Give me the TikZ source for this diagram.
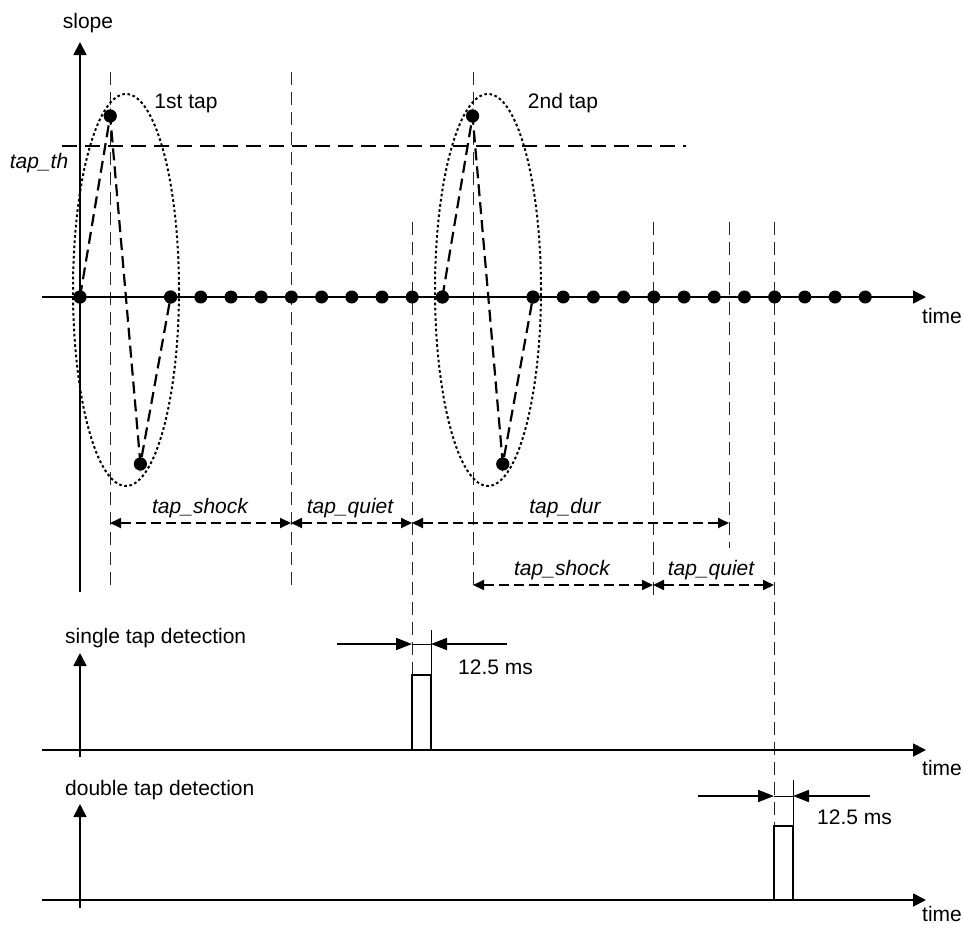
\documentclass[tikz,border=0pt]{standalone}
\usepackage{fontspec}
\setmainfont{Liberation Sans}
\usetikzlibrary{arrows.meta,shapes.geometric}
\begin{document}
\begin{tikzpicture}[x=1pt,y=-1pt,
  txt/.style={inner sep=0pt,font=\fontsize{21}{25}\selectfont},
  itxt/.style={txt,font=\fontsize{21}{25}\selectfont\itshape},
  axis/.style={line width=1.8pt,-{Triangle[length=13pt,width=13pt]}},
  dotnode/.style={circle,fill=black,minimum size=13pt,inner sep=0pt},
  sig/.style={line width=2.2pt,dash pattern=on 12pt off 6pt},
  thr/.style={line width=2pt,dash pattern=on 15pt off 8pt},
  vline/.style={line width=0.9pt,black!85,dash pattern=on 13pt off 7pt},
  dim/.style={line width=1.9pt,dash pattern=on 10pt off 5pt,{Triangle[length=11pt,width=10pt]}-{Triangle[length=11pt,width=10pt]}},
  tick/.style={line width=1.8pt,-{Triangle[length=16pt,width=12pt]}},
  thin/.style={line width=0.9pt},
  pulse/.style={line width=1.8pt},
  tapell/.style={ellipse,draw,line width=2pt,dash pattern=on 2.6pt off 2.6pt,minimum width=106pt,minimum height=392pt,inner sep=0pt}
]
\useasboundingbox (0,0) rectangle (964,927);

% ---------- main slope plot ----------
\coordinate (oy0) at (80,592);
\coordinate (oy1) at (80,42);
\coordinate (ox0) at (42,297);
\coordinate (ox1) at (926,297);

% tap threshold
\coordinate (th0) at (62,146);
\coordinate (th1) at (686,146);
\draw[thr] (th0) -- (th1);

% vertical dashed guide lines
\coordinate (va0) at (110,72);  \coordinate (va1) at (110,592);
\coordinate (vb0) at (291,72);  \coordinate (vb1) at (291,592);
\coordinate (vc0) at (412,222); \coordinate (vc1) at (412,675);
\coordinate (vd0) at (473,72);  \coordinate (vd1) at (473,592);
\coordinate (ve0) at (653,222); \coordinate (ve1) at (653,602);
\coordinate (vf0) at (729,222); \coordinate (vf1) at (729,548);
\coordinate (vg0) at (774,222); \coordinate (vg1) at (774,826);
\foreach \v in {a,b,c,d,e,f,g} \draw[vline] (v\v0) -- (v\v1);

% axes
\draw[axis] (oy0) -- (oy1);
\draw[axis] (ox0) -- (ox1);
\node[txt,anchor=base] (slope) at (88,28) {slope};
\node[txt,anchor=base] (time1) at (942,323) {time};
\node[itxt,anchor=base] (thl) at (39,168) {tap\_th};

% sample dots
\foreach \k in {0,3,4,5,6,7,8,9,10,11,12,15,16,17,18,19,20,21,22,23,24,25,26}
  \node[dotnode] (d\k) at ({80+30.2*\k},297) {};
\node[dotnode] (d1) at ({80+30.2*1},116) {};
\node[dotnode] (d2) at ({80+30.2*2},464) {};
\node[dotnode] (d13) at ({80+30.2*13},116) {};
\node[dotnode] (d14) at ({80+30.2*14},464) {};

\draw[sig] (d0.center) -- (d1.center) -- (d2.center) -- (d3.center);
\draw[sig] (d12.center) -- (d13.center) -- (d14.center) -- (d15.center);
% dots on top of the signal lines
\foreach \k in {0,1,2,3,12,13,14,15}
  \fill (d\k) circle (6.5pt);

% tap ellipses
\node[tapell] (e1) at (126,290) {};
\node[tapell] (e2) at (488,290) {};
\node[txt,anchor=base] (l1) at (186,108) {1st tap};
\node[txt,anchor=base] (l2) at (563,108) {2nd tap};

% timing dimensions
\coordinate (r1a) at (110,523); \coordinate (r1b) at (291,523);
\coordinate (r1c) at (412,523); \coordinate (r1d) at (729,523);
\coordinate (r2a) at (473,585); \coordinate (r2b) at (653,585);
\coordinate (r2c) at (774,585);
\draw[dim] (r1a) -- (r1b);
\draw[dim] (r1b) -- (r1c);
\draw[dim] (r1c) -- (r1d);
\draw[dim] (r2a) -- (r2b);
\draw[dim] (r2b) -- (r2c);
\node[itxt,anchor=base] (ts1) at (200,513) {tap\_shock};
\node[itxt,anchor=base] (tq1) at (350,513) {tap\_quiet};
\node[itxt,anchor=base] (td) at (565,513) {tap\_dur};
\node[itxt,anchor=base] (ts2) at (562,575) {tap\_shock};
\node[itxt,anchor=base] (tq2) at (711,575) {tap\_quiet};

% ---------- single tap detection ----------
\coordinate (sy0) at (80,757);
\coordinate (sy1) at (80,653);
\coordinate (sx0) at (42,750);
\coordinate (sx1) at (926,750);
\draw[axis] (sy0) -- (sy1);
\draw[axis] (sx0) -- (sx1);
\node[txt,anchor=base west] (stl) at (65,643) {single tap detection};
\node[txt,anchor=base] (time2) at (942,775) {time};
\coordinate (p1a) at (412,750); \coordinate (p1b) at (412,675);
\coordinate (p1c) at (431,675); \coordinate (p1d) at (431,750);
\draw[pulse] (p1a) -- (p1b) -- (p1c) -- (p1d);
\coordinate (p1t) at (431,630);
\draw[thin] (p1c) -- (p1t);
\coordinate (a1l) at (337,644); \coordinate (a1m) at (412,644);
\coordinate (a1n) at (431,644); \coordinate (a1r) at (507,644);
\draw[tick] (a1l) -- (a1m);
\draw[tick] (a1r) -- (a1n);
\draw[thin] (a1m) -- (a1n);
\node[txt,anchor=base west] (ms1) at (458,674) {12.5 ms};

% ---------- double tap detection ----------
\coordinate (dy0) at (80,908);
\coordinate (dy1) at (80,804);
\coordinate (dx0) at (42,900);
\coordinate (dx1) at (926,900);
\draw[axis] (dy0) -- (dy1);
\draw[axis] (dx0) -- (dx1);
\node[txt,anchor=base west] (dtl) at (65,795) {double tap detection};
\node[txt,anchor=base] (time3) at (942,921) {time};
\coordinate (p2a) at (774,900); \coordinate (p2b) at (774,826);
\coordinate (p2c) at (793,826); \coordinate (p2d) at (793,900);
\draw[pulse] (p2a) -- (p2b) -- (p2c) -- (p2d);
\coordinate (p2t) at (793,780);
\draw[thin] (p2c) -- (p2t);
\coordinate (a2l) at (698,796); \coordinate (a2m) at (774,796);
\coordinate (a2n) at (793,796); \coordinate (a2r) at (870,796);
\draw[tick] (a2l) -- (a2m);
\draw[tick] (a2r) -- (a2n);
\draw[thin] (a2m) -- (a2n);
\node[txt,anchor=base west] (ms2) at (817,824) {12.5 ms};
\end{tikzpicture}
\end{document}
